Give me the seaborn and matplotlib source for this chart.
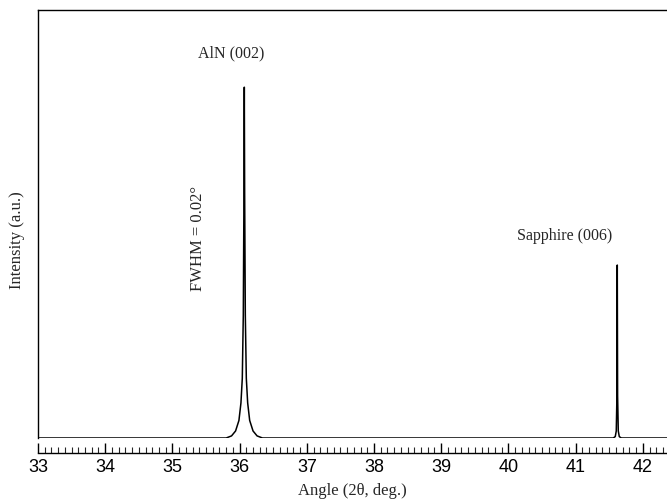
import numpy as np
import pandas as pd
import matplotlib
matplotlib.use("Agg")
import matplotlib.pyplot as plt
from matplotlib.ticker import MultipleLocator
import seaborn as sns

# XRD scan (angle 2theta in deg, intensity a.u.)
angle = [33.00, 35.80, 35.88, 35.94, 35.99, 36.02, 36.04, 36.055, 36.065, 36.07,
         36.075, 36.085, 36.10, 36.12, 36.15, 36.20, 36.26, 36.34,
         41.56, 41.59, 41.605, 41.615, 41.62, 41.625, 41.635, 41.65, 41.68, 42.36]
intensity = [0.0, 0.0, 0.006, 0.02, 0.05, 0.10, 0.17, 0.35, 0.70, 1.00,
             0.70, 0.35, 0.17, 0.10, 0.05, 0.02, 0.006, 0.0,
             0.0, 0.004, 0.02, 0.12, 0.493, 0.12, 0.02, 0.004, 0.0, 0.0]

labels = ["AlN (002)", "Sapphire (006)", "FWHM = 0.02°"]
xticks = [33, 34, 35, 36, 37, 38, 39, 40, 41, 42]

df = pd.DataFrame({"angle": angle, "intensity": intensity})

sns.set_style("ticks")
plt.rcParams["font.family"] = ["Liberation Serif", "DejaVu Serif"]

fig = plt.figure(figsize=(6.67, 5.0), dpi=100)
ax = fig.add_axes([38 / 667, 1 - 438 / 500, 1 - 38 / 667, 428 / 500])

sns.lineplot(data=df, x="angle", y="intensity", ax=ax, color="black",
             linewidth=1.1, estimator=None, sort=False)

ax.set_xlim(33, 42.36)
ax.set_ylim(0, 1.22)
ax.set_yticks([])
ax.set_xticks(xticks)
ax.set_xticklabels([str(t) for t in xticks])
ax.xaxis.set_minor_locator(MultipleLocator(0.1))
ax.tick_params(axis="x", which="major", direction="in", length=7, width=1.0,
               pad=4, colors="black", labelsize=13,
               labelfontfamily="Liberation Sans")
ax.tick_params(axis="x", which="minor", direction="in", length=4, width=0.8)
ax.spines["bottom"].set_position(("outward", 11))
ax.spines["right"].set_visible(False)
for s in ["left", "top", "bottom"]:
    ax.spines[s].set_color("black")
    ax.spines[s].set_linewidth(1.0)

ax.set_xlabel("Angle (2θ, deg.)", fontsize=12, labelpad=5)
ax.set_ylabel("Intensity (a.u.)", fontsize=12)
ax.yaxis.set_label_coords(-0.021, 0.463)

ax.text(35.87, 1.097, labels[0], ha="center", va="center", fontsize=11.5)
ax.text(40.84, 0.576, labels[1], ha="center", va="center", fontsize=11.5)
ax.text(35.38, 0.57, labels[2], ha="center", va="center", rotation=90, fontsize=12)

fig.savefig("out.png", dpi=100)
